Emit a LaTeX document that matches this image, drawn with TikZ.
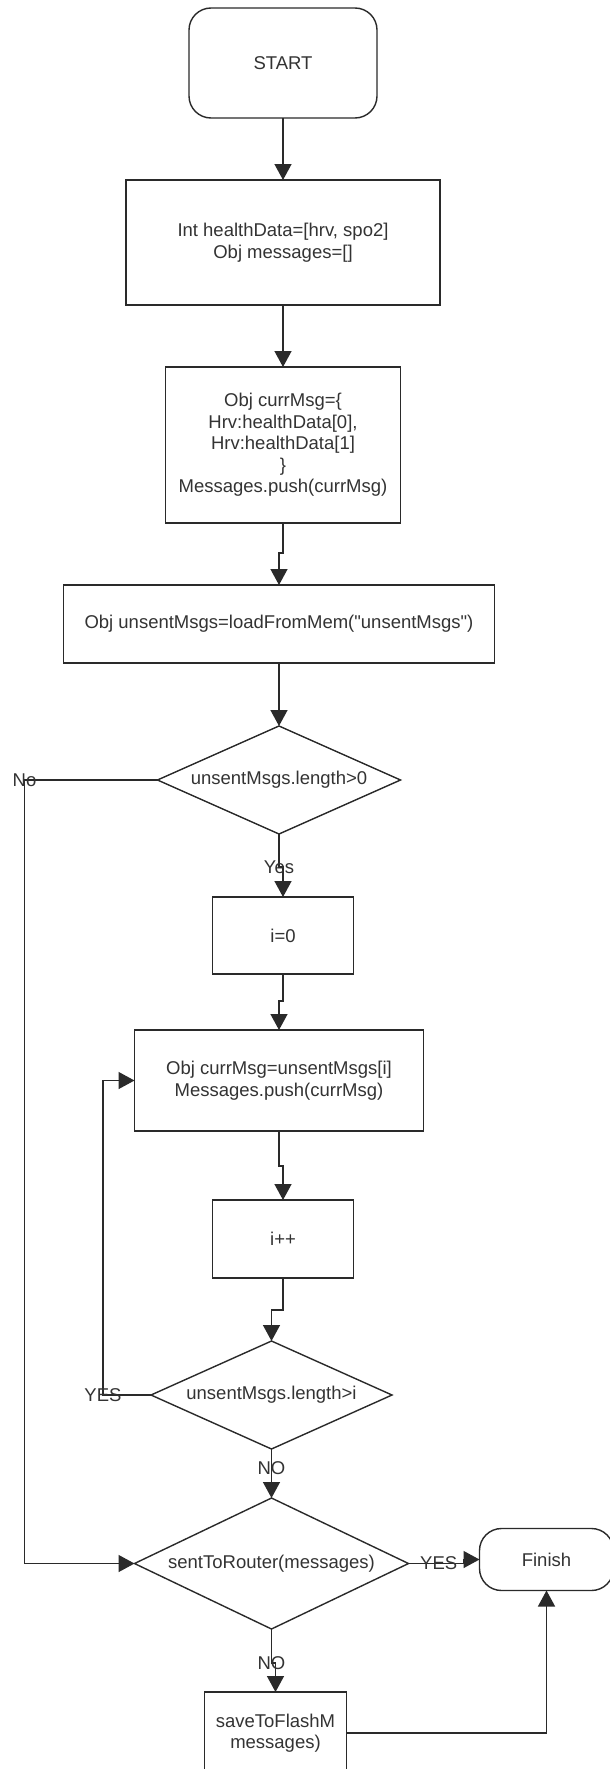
\documentclass[tikz,border=0pt]{standalone}
\usepackage{fontspec}
\setmainfont{Liberation Sans}
\usepackage{xcolor}
\usepackage{tikz}
\usetikzlibrary{arrows.meta, positioning, shapes.geometric}
\definecolor{ink}{HTML}{333333}
\definecolor{edge}{HTML}{2A2A2A}
\tikzset{
  proc/.style={rectangle, draw=edge, line width=1.4pt, align=center,
               inner sep=4pt, outer sep=0pt, text=ink, font=\flowfont},
  term/.style={proc, rounded corners=22pt},
  cond/.style={diamond, aspect=2.2, draw=edge, line width=1.4pt, align=center,
               inner sep=0pt, outer sep=0pt, text=ink, font=\flowfont},
  lbl/.style={text=ink, font=\flowfont, inner sep=0pt},
  arrow/.style={-{Triangle[length=16pt, width=17pt]}, line width=1.4pt, draw=edge},
}
\newcommand{\flowfont}{\fontsize{18.5}{21.5}\selectfont}

\begin{document}
\begin{tikzpicture}[x=1pt, y=1pt]
  \useasboundingbox[fill=white] (0,0) rectangle (610,-1769);

  \node[term, minimum width=188pt, minimum height=110pt] (start) at (283,-63) {START};
  \node[proc, minimum width=314pt, minimum height=125pt, below=62pt of start] (init)
    {Int healthData=[hrv, spo2]\\Obj messages=[]};
  \node[proc, minimum width=235pt, minimum height=156pt, below=62pt of init] (curr)
    {Obj currMsg=\{\\Hrv:healthData[0],\\Hrv:healthData[1]\\\}\\Messages.push(currMsg)};
  \node[proc, minimum width=431pt, minimum height=78pt, below=62pt of curr, xshift=-4pt] (load)
    {Obj unsentMsgs=loadFromMem(\textquotedbl unsentMsgs\textquotedbl)};
  \node[cond, aspect=2.25, minimum width=243pt, minimum height=108pt, below=63pt of load] (haveold)
    {unsentMsgs.length>0};
  \node[proc, minimum width=141pt, minimum height=77pt, below=63pt of haveold, xshift=4pt] (zero)
    {i=0};
  \node[proc, minimum width=289pt, minimum height=101pt, below=56pt of zero, xshift=-4pt] (pushold)
    {Obj currMsg=unsentMsgs[i]\\Messages.push(currMsg)};
  \node[proc, minimum width=141pt, minimum height=78pt, below=69pt of pushold, xshift=4pt] (incr)
    {i++};
  \node[cond, aspect=2.23, minimum width=241pt, minimum height=108pt, below=63pt of incr, xshift=-11.5pt] (more)
    {unsentMsgs.length>i};
  \node[cond, aspect=2.09, minimum width=274pt, minimum height=131pt, below=49pt of more] (send)
    {sentToRouter(messages)};
  \node[term, minimum width=134pt, minimum height=62pt, right=71pt of send, yshift=4pt] (finish)
    {Finish};
  \node[proc, minimum width=142pt, minimum height=82pt, below=63pt of send, xshift=4pt] (save)
    {saveToFlashM\\messages)};

  \draw[arrow] (start) -- (init);
  \draw[arrow] (init) -- (curr);
  \draw[arrow] (curr.south) -- ++(0,-30) -| (load.north);
  \draw[arrow] (load) -- (haveold);
  \draw[arrow] (haveold.south) -- ++(0,-33) node[lbl] {Yes} -| (zero.north);
  \draw[arrow] (zero.south) -- ++(0,-27) -| (pushold.north);
  \draw[arrow] (pushold.south) -- ++(0,-35) -| (incr.north);
  \draw[arrow] (incr.south) -- ++(0,-32) -| (more.north);
  \draw[arrow] (more.south) -- node[lbl, pos=0.4] {NO} (send.north);
  \draw[arrow] (more.west) -- ++(-48,0) node[lbl] {YES} |- (pushold.west);
  \draw[arrow] (haveold.west) -- ++(-133,0) node[lbl] {No} |- (send.west);
  \draw[arrow] (send.east) -- node[lbl, pos=0.55] {YES} ++(55,0) |- (finish.west);
  \draw[arrow] (send.south) -- ++(0,-34) node[lbl] {NO} -| (save.north);
  \draw[arrow] (save.east) -| (finish.south);
\end{tikzpicture}
\end{document}
